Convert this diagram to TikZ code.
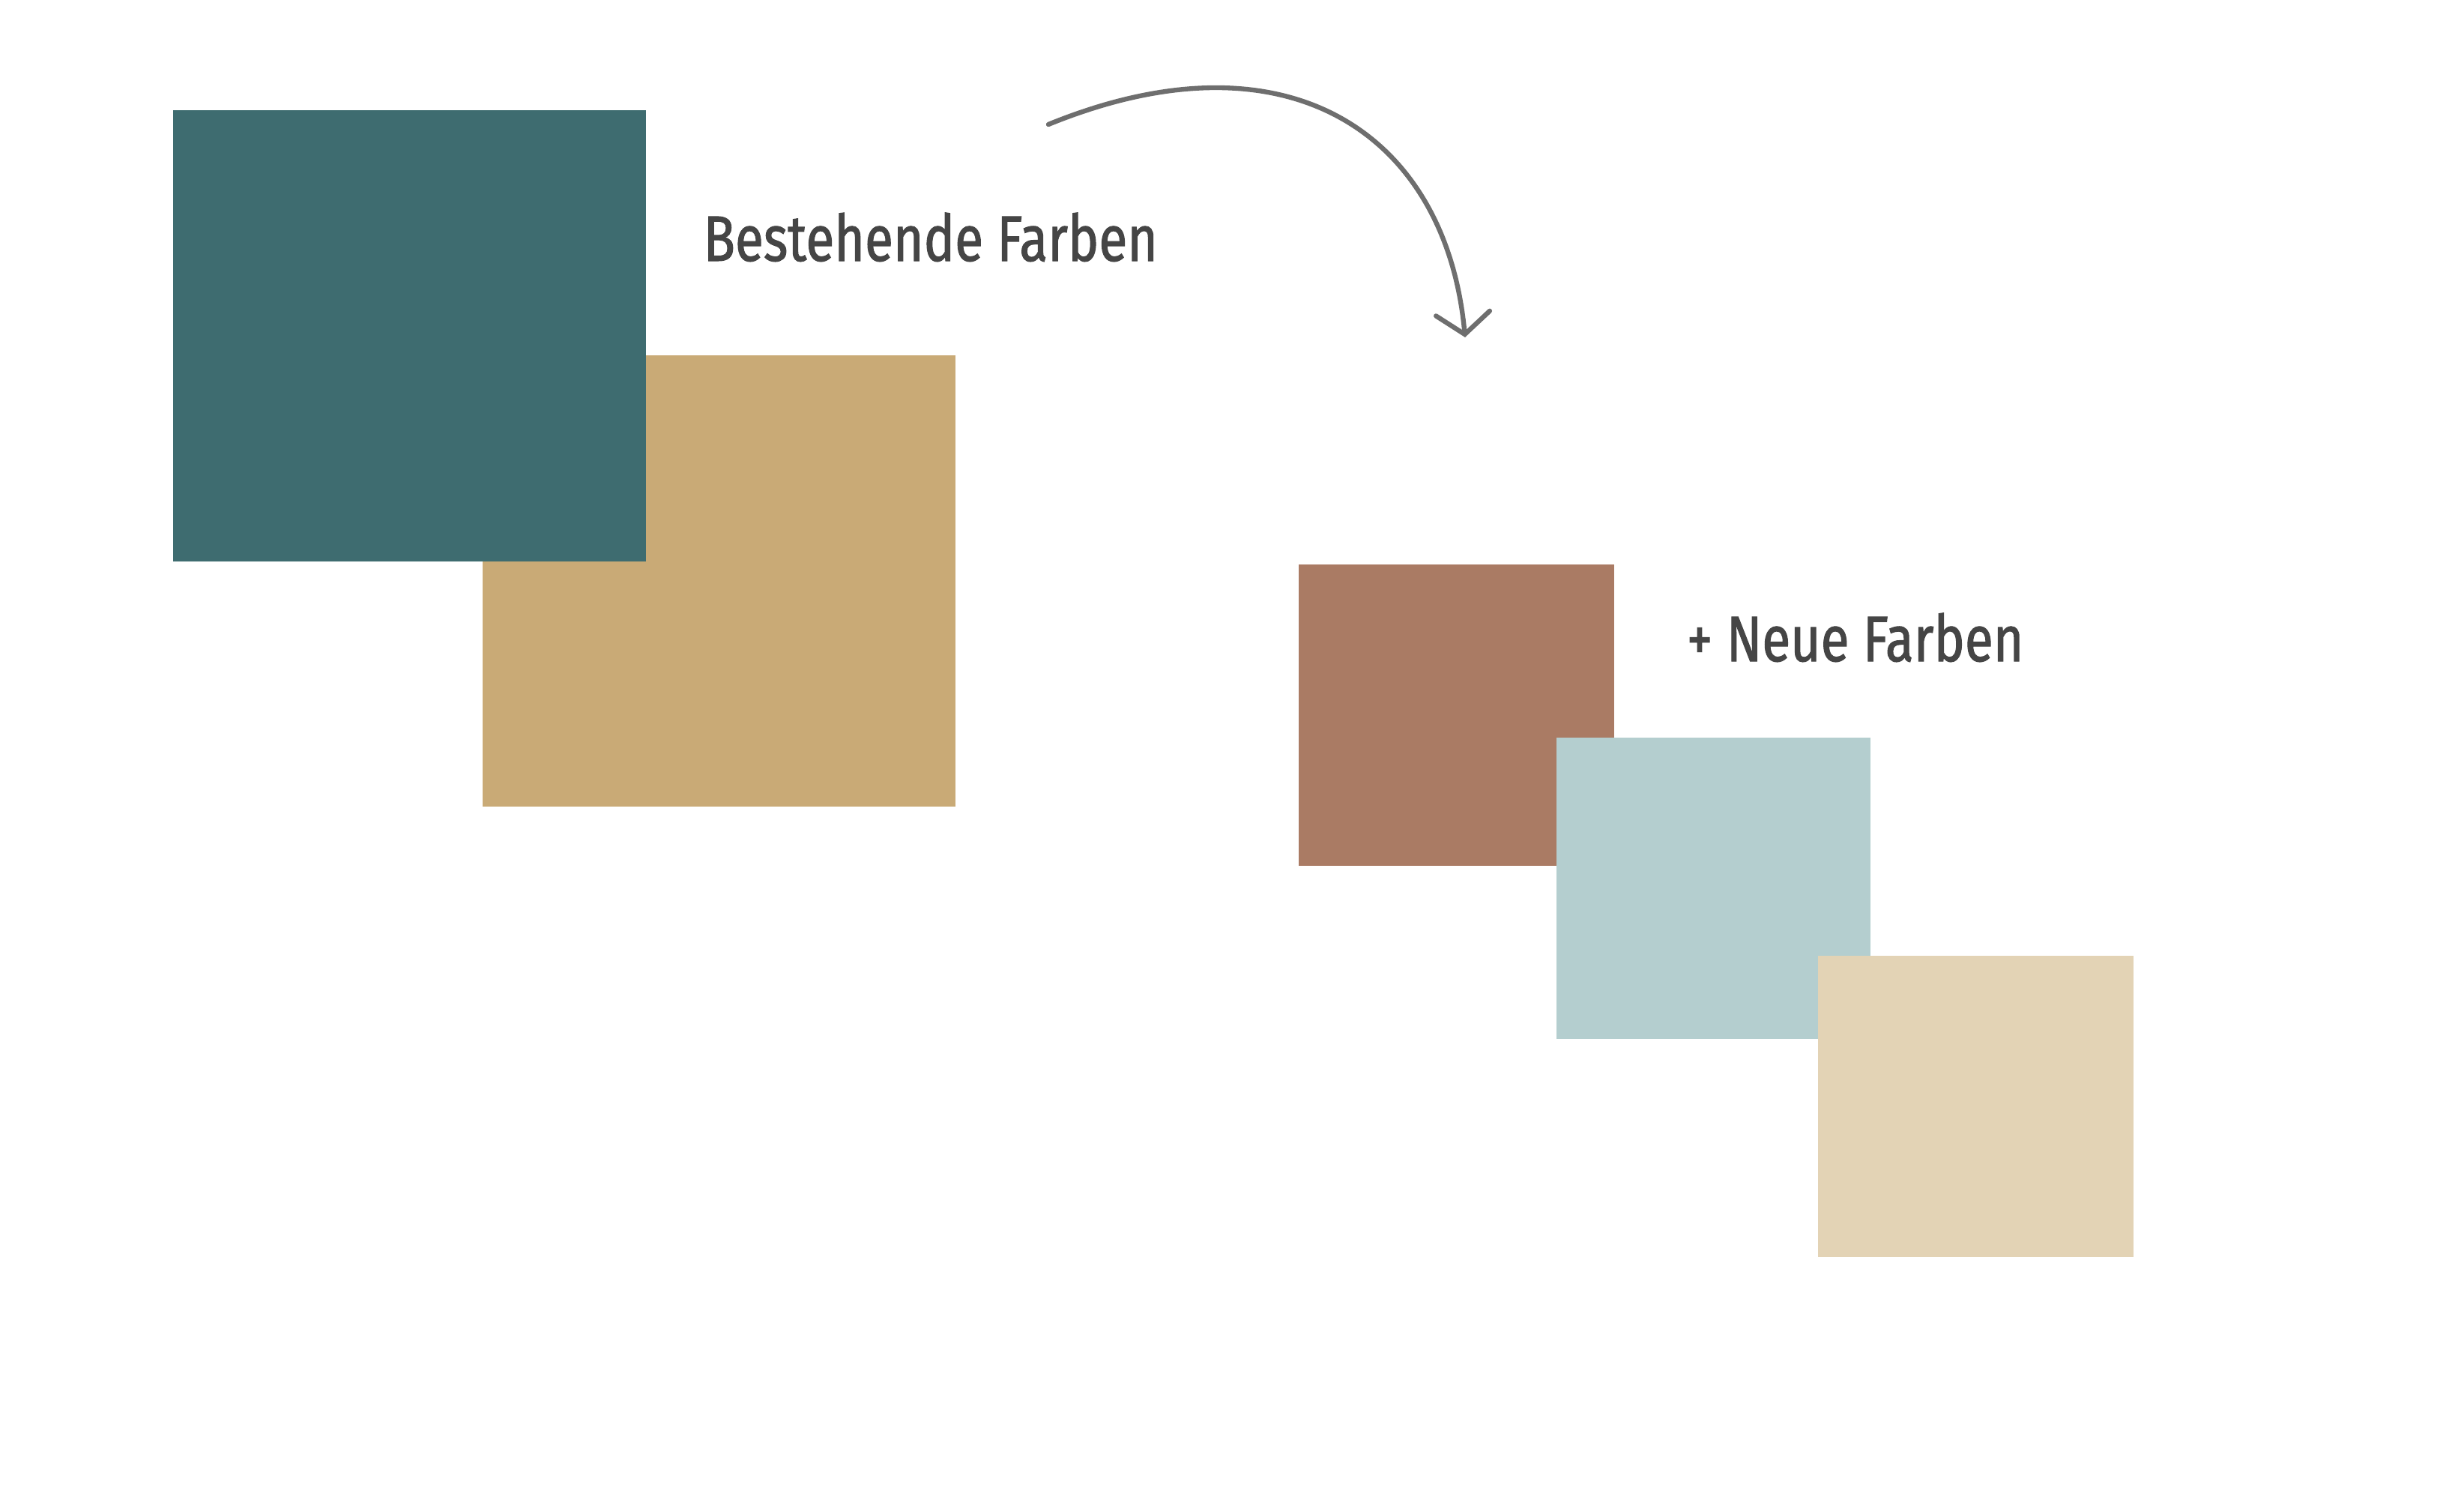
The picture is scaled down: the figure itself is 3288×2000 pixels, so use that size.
\documentclass[tikz,border=0pt]{standalone}
\usepackage{fontspec}
\newfontfamily\farbfont{Fira Sans}[FakeStretch=0.81, FakeBold=1.2]
\usetikzlibrary{arrows.meta}
\definecolor{petrol}{HTML}{3E6C70}
\definecolor{sand}{HTML}{C9AA76}
\definecolor{rost}{HTML}{AA7B64}
\definecolor{eisblau}{HTML}{B4CECF}
\definecolor{creme}{HTML}{E3D3B5}
\definecolor{schrift}{HTML}{454545}
\definecolor{pfeilgrau}{HTML}{6E6E6E}
\tikzset{
	farbtext/.style={anchor=base west, inner sep=0pt, text=schrift, font=\farbfont\fontsize{24.4}{28}\selectfont},
	pfeil/.style={pfeilgrau, line width=1.8pt, line cap=round, -{Straight Barb[length=0.28cm, width=0.72cm, line cap=round]}}
}
\begin{document}
\begin{tikzpicture}[x=0.01cm, y=-0.01cm]
		\useasboundingbox[fill=white] (0,0) rectangle (3288,2000);
		% bestehende Farben
		\fill[sand] (644,474) rectangle (1275,1076);
		\fill[petrol] (231,147) rectangle (862,749);
		\node[farbtext] (bestehend) at (938,348) {Bestehende Farben};
		% neue Farben
		\fill[rost] (1733,753) rectangle (2154,1155);
		\fill[eisblau] (2077,984) rectangle (2496,1386);
		\fill[creme] (2426,1275) rectangle (2847,1677);
		\node[farbtext] (neu) at (2250,882) {+ Neue Farben};
		\coordinate (pfeilstart) at (1399,166);
		\coordinate (pfeilende) at (1955,450);
		\draw[pfeil] (pfeilstart) .. controls (1720,35) and (1930,180) .. (pfeilende);
	\end{tikzpicture}
\end{document}
